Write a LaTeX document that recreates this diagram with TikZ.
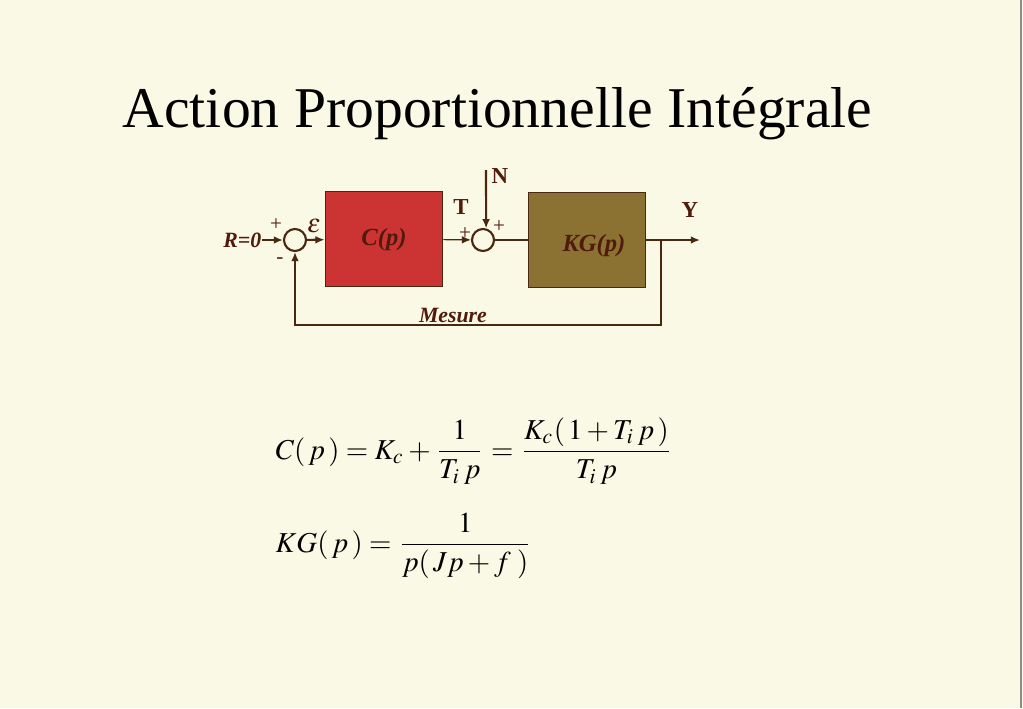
\documentclass[tikz,border=0pt]{standalone}
\usepackage{mathptmx}
\usepackage{fontspec}
\setmainfont{Liberation Serif}
\usetikzlibrary{arrows.meta}

\definecolor{paper}{RGB}{250,249,229}
\definecolor{wire}{RGB}{72,40,16}
\definecolor{boxtext}{RGB}{80,26,12}
\definecolor{ctrlred}{RGB}{204,52,52}
\definecolor{plantolive}{RGB}{139,114,50}

\begin{document}
\begin{tikzpicture}[x=0.01cm, y=-0.01cm,
        % Blocks: filled rectangle, dark brown border
        block/.style={rectangle, draw=wire, line width=0.5pt,
            minimum width=1.17cm, minimum height=0.95cm, inner sep=0pt},
        % Summing junctions
        sum/.style={circle, draw=wire, line width=0.6pt,
            minimum size=0.22cm, inner sep=0pt},
        % Signal lines
        wire/.style={draw=wire, line width=0.6pt},
        arrow/.style={wire, -{Latex[length=2.6pt,width=2.2pt]}},
        % Labels
        lbl/.style={text=boxtext, inner sep=0pt,
            font=\fontsize{6.2}{7}\selectfont\bfseries\itshape},
        sig/.style={text=boxtext, inner sep=0pt,
            font=\fontsize{6.5}{7}\selectfont\bfseries},
        sign/.style={text=boxtext, inner sep=0pt,
            font=\fontsize{6}{7}\selectfont},
        eq/.style={anchor=base west, inner sep=0pt,
            font=\fontsize{8.2}{10}\selectfont},
        ]

        % background and page frame
        \fill[paper] (0,0) rectangle (1023,708);
        \useasboundingbox (0,0) rectangle (1023,708);
        \draw[black!45, line width=0.5pt] (1021,0) -- (1021,708);

        % === Title ===
        \node[anchor=base west, inner sep=0pt,
            font=\fontsize{16.4}{20}\selectfont] (title) at (122,127)
            {Action Proportionnelle Intégrale};

        % === Blocks and junctions ===
        \node[sum] (sumA) at (295,240) {};
        \node[block, fill=ctrlred] (ctrl) at (384,239) {};
        \node[sum] (sumB) at (483,240) {};
        \node[block, fill=plantolive] (plant) at (587,240) {};

        \node[lbl, font=\fontsize{7}{8}\selectfont\bfseries\itshape] at (384,240) {C(p)};
        \node[lbl, font=\fontsize{7}{8}\selectfont\bfseries\itshape] at (594,246) {KG(p)};

        % free ends
        \coordinate (rin) at (262,240);
        \coordinate (nin) at (486,170);
        \coordinate (yout) at (700,240);
        \coordinate (branch) at (661,240);
        \coordinate (fb) at (661,325);

        % === Connectors ===
        \draw[arrow] (rin) -- (sumA);
        \draw[arrow] (sumA) -- (ctrl);
        \draw[arrow, line width=0.35pt] (ctrl) -- (sumB);
        \draw[arrow] (nin) -- (sumB.75);
        \draw[wire] (sumB) -- (plant);
        \draw[arrow] (plant) -- (yout);
        \draw[arrow] (branch) -- (fb) -| (sumA);

        % === Labels ===
        \node[lbl, anchor=east] at (rin) {R=0};
        \node[sign] at (276,225) {+};
        \node[sign] at (280,261) {-};
        \node[text=boxtext, inner sep=0pt, font=\fontsize{7.5}{8}\selectfont] at (314,226) {$\varepsilon$};
        \node[sig] at (461,207) {T};
        \node[sign] at (465,234) {+};
        \node[sign] at (499,227) {+};
        \node[sig] at (500,176) {N};
        \node[sig] at (690,210) {Y};
        \node[lbl] at (453,315) {Mesure};

        % === Transfer functions ===
        \node[eq] (eqC) at (275,459)
            {$\displaystyle C(\,p\,) = K_c + \frac{1}{T_i\,p} = \frac{K_c(\,1+T_i\,p\,)}{T_i\,p}$};
        \node[eq] (eqKG) at (275,552)
            {$\displaystyle KG(\,p\,) = \frac{1}{p(\,Jp+f\;)}$};

    \end{tikzpicture}
\end{document}
